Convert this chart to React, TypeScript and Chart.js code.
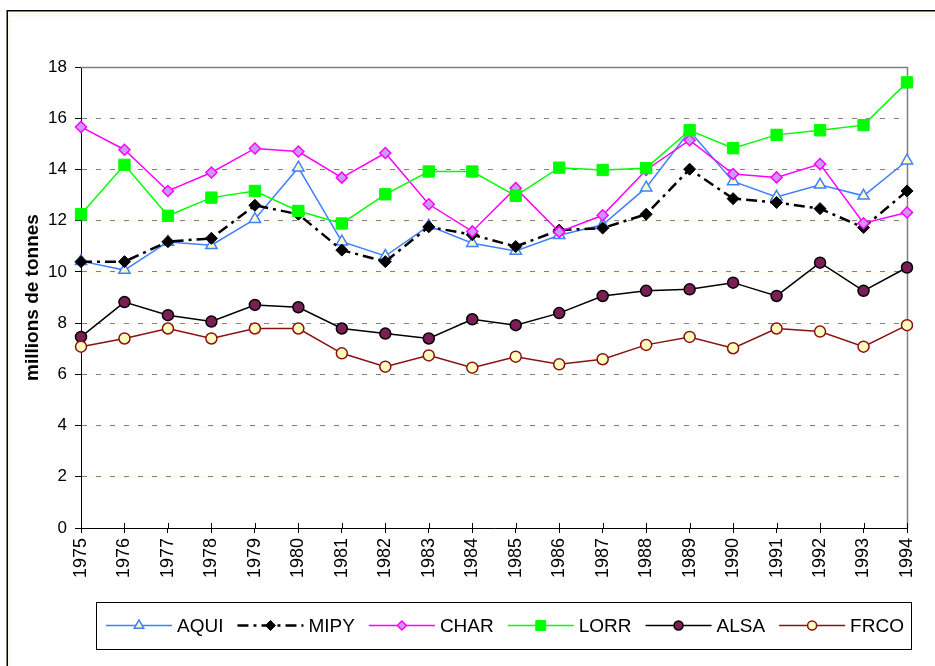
import React, { useEffect, useRef } from "react";
import { Chart, registerables } from "chart.js";
import { drawPoint } from "chart.js/helpers";

Chart.register(...registerables);

const years = ["1975","1976","1977","1978","1979","1980","1981","1982","1983","1984","1985","1986","1987","1988","1989","1990","1991","1992","1993","1994"];
const yTicks = [0, 2, 4, 6, 8, 10, 12, 14, 16, 18];

const AQUI = [10.42, 10.07, 11.17, 11.04, 12.06, 14.07, 11.18, 10.62, 11.8, 11.12, 10.82, 11.43, 11.84, 13.29, 15.5, 13.53, 12.93, 13.4, 12.97, 14.34];
const MIPY = [10.4, 10.4, 11.18, 11.31, 12.6, 12.25, 10.85, 10.4, 11.76, 11.45, 10.99, 11.63, 11.71, 12.25, 14.01, 12.86, 12.71, 12.47, 11.73, 13.16];
const CHAR = [15.66, 14.77, 13.16, 13.88, 14.82, 14.7, 13.68, 14.64, 12.64, 11.58, 13.27, 11.56, 12.21, 13.98, 15.14, 13.82, 13.69, 14.21, 11.9, 12.32];
const LORR = [12.25, 14.18, 12.19, 12.9, 13.16, 12.38, 11.89, 13.03, 13.92, 13.92, 12.97, 14.07, 13.98, 14.05, 15.53, 14.83, 15.35, 15.53, 15.73, 17.4];
const ALSA = [7.46, 8.82, 8.31, 8.06, 8.71, 8.62, 7.79, 7.59, 7.4, 8.15, 7.92, 8.39, 9.06, 9.26, 9.32, 9.58, 9.06, 10.36, 9.26, 10.17];
const FRCO = [7.08, 7.4, 7.79, 7.4, 7.79, 7.79, 6.82, 6.3, 6.74, 6.26, 6.69, 6.39, 6.59, 7.15, 7.46, 7.02, 7.79, 7.67, 7.08, 7.92];

const FONT = '"Liberation Sans", Arial, sans-serif';

const decorPlugin = {
  id: "decor",
  beforeDraw(chart: any) {
    const { ctx, width, height, chartArea } = chart;
    ctx.save();
    ctx.fillStyle = "#ffffff";
    ctx.fillRect(0, 0, width, height);
    ctx.fillStyle = "#FFFAF0";
    ctx.fillRect(8, 12, width, 5);
    ctx.fillRect(8, 12, 3, height);
    ctx.strokeStyle = "#000000";
    ctx.lineWidth = 1.5;
    ctx.strokeRect(7.25, 10.75, width + 10, height + 10);
    const y = chart.scales.y;
    ctx.strokeStyle = "#FFF6E6";
    ctx.lineWidth = 1;
    yTicks.forEach((v) => {
      const py = Math.round(y.getPixelForValue(v)) + 0.5;
      ctx.beginPath();
      ctx.moveTo(chartArea.left, py);
      ctx.lineTo(chartArea.right, py);
      ctx.stroke();
    });
    ctx.restore();
  },
  beforeDatasetsDraw(chart: any) {
    const { ctx, chartArea, scales } = chart;
    ctx.save();
    ctx.strokeStyle = "#808080";
    ctx.lineWidth = 1.5;
    ctx.beginPath();
    ctx.moveTo(chartArea.left, chartArea.top + 0.5);
    ctx.lineTo(chartArea.right + 0.5, chartArea.top + 0.5);
    ctx.lineTo(chartArea.right + 0.5, chartArea.bottom);
    ctx.stroke();
    ctx.strokeStyle = "#000000";
    ctx.lineWidth = 1;
    const xs = scales.x;
    for (let i = 0; i < years.length; i++) {
      const px = Math.round(xs.getPixelForTick(i)) + 0.5;
      ctx.beginPath();
      ctx.moveTo(px, chartArea.bottom - 5);
      ctx.lineTo(px, chartArea.bottom);
      ctx.stroke();
    }
    ctx.restore();
  },
};

const legendPlugin = {
  id: "customLegend",
  afterDraw(chart: any) {
    const { ctx } = chart;
    const boxL = 96, boxT = 602, boxR = 911, boxB = 649;
    ctx.save();
    ctx.fillStyle = "#ffffff";
    ctx.fillRect(boxL, boxT, boxR - boxL, boxB - boxT);
    ctx.strokeStyle = "#000000";
    ctx.lineWidth = 1;
    ctx.strokeRect(boxL + 0.5, boxT + 0.5, boxR - boxL, boxB - boxT);
    const cy = (boxT + boxB) / 2;
    let x = boxL + 10;
    ctx.font = `19px ${FONT}`;
    ctx.textBaseline = "middle";
    ctx.textAlign = "left";
    chart.data.datasets.forEach((ds: any) => {
      ctx.strokeStyle = ds.borderColor;
      ctx.lineWidth = ds.borderWidth;
      ctx.setLineDash(ds.borderDash || []);
      ctx.beginPath();
      ctx.moveTo(x, cy);
      ctx.lineTo(x + 66, cy);
      ctx.stroke();
      ctx.setLineDash([]);
      ctx.fillStyle = ds.pointBackgroundColor;
      ctx.strokeStyle = ds.pointBorderColor;
      ctx.lineWidth = ds.pointBorderWidth;
      drawPoint(ctx, { pointStyle: ds.pointStyle, radius: ds.pointRadius - 1, rotation: 0, borderWidth: ds.pointBorderWidth } as any, x + 33, cy);
      ctx.fillStyle = "#000000";
      ctx.fillText(ds.label, x + 71, cy + 1);
      const w = ctx.measureText(ds.label).width;
      x += 71 + w + 14;
    });
    ctx.restore();
  },
};

export default function App() {
  const ref = useRef<HTMLCanvasElement | null>(null);
  useEffect(() => {
    document.body.style.margin = "0";
    if (!ref.current) return;
    Chart.defaults.font.family = FONT;
    Chart.defaults.color = "#000000";
    const mk = (label: string, data: number[], o: any, order: number) => ({
      label,
      data,
      fill: false,
      tension: 0,
      clip: false,
      order,
      ...o,
    });
    const chart = new Chart(ref.current, {
      type: "line",
      data: {
        labels: years,
        datasets: [
          mk("AQUI", AQUI, { borderColor: "#4080FF", borderWidth: 1.5, pointStyle: "triangle", pointRadius: 6.5, pointBackgroundColor: "#FFFFC8", pointBorderColor: "#4080FF", pointBorderWidth: 1.5 }, 6),
          mk("MIPY", MIPY, { borderColor: "#000000", borderWidth: 2.5, borderDash: [11, 5, 3, 5], pointStyle: "rectRot", pointRadius: 6, pointBackgroundColor: "#000000", pointBorderColor: "#000000", pointBorderWidth: 1 }, 5),
          mk("CHAR", CHAR, { borderColor: "#FF00FF", borderWidth: 1.5, pointStyle: "rectRot", pointRadius: 5.5, pointBackgroundColor: "#CC99FF", pointBorderColor: "#FF00FF", pointBorderWidth: 1.5 }, 4),
          mk("LORR", LORR, { borderColor: "#00FF00", borderWidth: 1.5, pointStyle: "rect", pointRadius: 8, pointBackgroundColor: "#00FF00", pointBorderColor: "#00FF00", pointBorderWidth: 1 }, 3),
          mk("ALSA", ALSA, { borderColor: "#000000", borderWidth: 1.5, pointStyle: "circle", pointRadius: 5.5, pointBackgroundColor: "#7A1E55", pointBorderColor: "#000000", pointBorderWidth: 1.5 }, 2),
          mk("FRCO", FRCO, { borderColor: "#8B1010", borderWidth: 1.5, pointStyle: "circle", pointRadius: 5.5, pointBackgroundColor: "#FFFFC0", pointBorderColor: "#8B1010", pointBorderWidth: 1.5 }, 1),
        ],
      },
      options: {
        animation: false,
        responsive: false,
        devicePixelRatio: 1,
        layout: { padding: { left: 0, right: 28, top: 67, bottom: 0 } },
        plugins: { legend: { display: false }, tooltip: { enabled: false } },
        scales: {
          x: {
            offset: false,
            grid: { drawOnChartArea: false, drawTicks: true, tickLength: 5, color: "#000000", tickColor: "#000000" },
            border: { color: "#000000", width: 1 },
            ticks: { autoSkip: false, minRotation: 90, maxRotation: 90, padding: 5, font: { size: 18 }, color: "#000000" },
            afterFit: (s: any) => { s.height = 138; },
          },
          y: {
            min: 0,
            max: 18,
            afterBuildTicks: (s: any) => { s.ticks = yTicks.map((v) => ({ value: v })); },
            grid: { color: "#808080", lineWidth: 1, tickLength: 6, tickColor: "#000000", tickBorderDash: [], drawTicks: true },
            border: { color: "#000000", width: 1, dash: [5, 9] },
            ticks: { padding: 8, font: { size: 17 }, color: "#000000" },
            title: { display: true, text: "millions de tonnes", font: { size: 19, weight: "bold" }, color: "#000000", padding: { top: 21, bottom: 0 } },
            afterFit: (s: any) => { s.width = 81; },
          },
        },
      },
      plugins: [decorPlugin, legendPlugin],
    } as any);
    return () => chart.destroy();
  }, []);
  return <canvas ref={ref} width={935} height={666} style={{ display: "block", width: 935, height: 666 }} />;
}
